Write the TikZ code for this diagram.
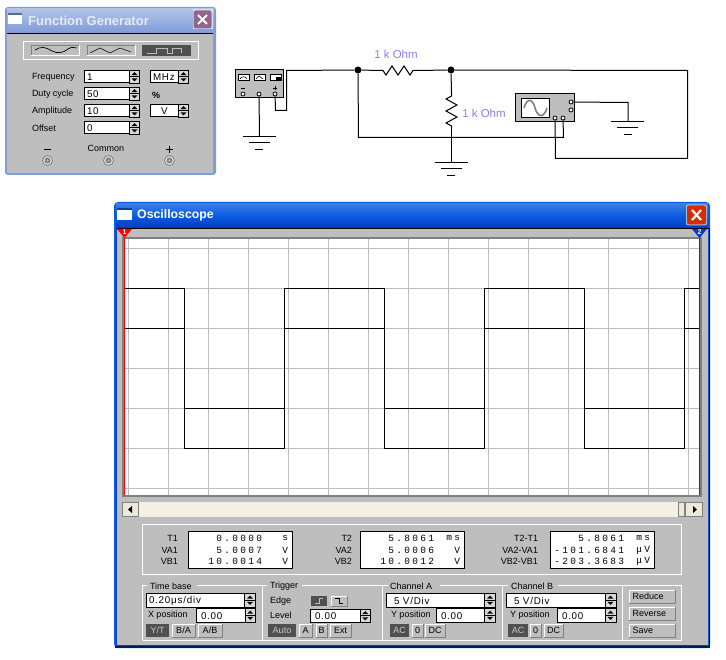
\documentclass[tikz,border=0pt]{standalone}
\usepackage{fontspec}
\setmainfont{Liberation Sans}
\newfontfamily\lcdfont[LetterSpace=24]{Liberation Mono}
\newfontfamily\fieldfont[LetterSpace=8]{Liberation Sans}
\definecolor{panelgray}{HTML}{BEBEBE}
\definecolor{gridgray}{HTML}{BEBEBE}
\definecolor{darkedge}{HTML}{808080}
\definecolor{btnface}{HTML}{ECE9D8}
\definecolor{trackcream}{HTML}{F4F1E4}
\definecolor{xpblue}{HTML}{0A5BE0}
\definecolor{xpdeep}{HTML}{003CC0}
\definecolor{inactA}{HTML}{8FA8DE}
\definecolor{inactB}{HTML}{7F9BD8}
\definecolor{labelblue}{HTML}{8585E6}
\definecolor{darkbtn}{HTML}{505050}
\newcounter{uid}
\tikzset{
  x=1pt,y=-1pt,
  wire/.style={draw=black,line width=1pt},
  trace/.style={draw=black,line width=1pt},
  gridline/.style={draw=gridgray,line width=1pt},
  txt/.style={inner sep=0pt,outer sep=0pt,font=\fontsize{9}{10}\selectfont,text=black},
  field/.style={draw=black,fill=white,line width=1pt},
  raised/.style={draw=darkedge,fill=panelgray,line width=1pt},
  terminal/.style={circle,draw=black,fill=white,line width=.8pt,inner sep=0pt,minimum size=4pt},
  junction/.style={circle,fill=black,inner sep=0pt,minimum size=7pt},
  resistorline/.style={draw=black,line width=1pt,line join=miter},
  reslabel/.style={inner sep=0pt,font=\fontsize{11.5}{12}\selectfont,text=labelblue},
}
\newcommand{\lab}[4]{\stepcounter{uid}\node[txt,anchor=#1] (t\theuid) at (#2,#3) {#4};}
\newcommand{\spin}[4]{%
  \fill[panelgray!60!white] (#1,#3) rectangle (#2,#4);
  \draw[black,line width=.8pt] (#1,#3) rectangle (#2,#4);
  \draw[black,line width=.6pt] (#1,{(#3+#4)/2}) -- (#2,{(#3+#4)/2});
  \fill[black] ({(#1+#2)/2-3},{(#3+#4)/2-1.6}) -- ({(#1+#2)/2+3},{(#3+#4)/2-1.6}) -- ({(#1+#2)/2},{(#3+#4)/2-4.6}) -- cycle;
  \fill[black] ({(#1+#2)/2-3},{(#3+#4)/2+1.6}) -- ({(#1+#2)/2+3},{(#3+#4)/2+1.6}) -- ({(#1+#2)/2},{(#3+#4)/2+4.6}) -- cycle;
}
\newcommand{\spinfield}[6]{%
  \draw[field] (#1,#4) rectangle (#2,#5);
  \spin{#2}{#3}{#4}{#5}
  \stepcounter{uid}\node[txt,anchor=west,font=\fontsize{9.8}{10}\fieldfont] (t\theuid) at (#1+2.5,{(#4+#5)/2+.5}) {#6};
}
\newcommand{\pbtn}[5]{%
  \draw[draw=white,line width=.8pt] (#1,#4) -- (#1,#3) -- (#2,#3);
  \draw[draw=darkedge,line width=1pt] (#2,#3) -- (#2,#4) -- (#1,#4);
  \stepcounter{uid}\node[txt,text=black] (t\theuid) at ({(#1+#2)/2},{(#3+#4)/2}) {#5};
}
\newcommand{\lbtn}[4]{%
  \draw[draw=white,line width=.8pt] (629,#2) -- (629,#1) -- (675,#1);
  \draw[draw=darkedge,line width=1pt] (675,#1) -- (675,#2) -- (629,#2);
  \stepcounter{uid}\node[txt,anchor=west] (t\theuid) at (632.5,{(#1+#2)/2-.5}) {#3};
}
\newcommand{\dbtn}[5]{%
  \fill[darkbtn] (#1,#3) rectangle (#2,#4);
  \stepcounter{uid}\node[txt,text=panelgray!85!white] (t\theuid) at ({(#1+#2)/2},{(#3+#4)/2}) {#5};
}
\newcommand{\dial}[2]{%
  \draw[darkedge,line width=.8pt,fill=panelgray!50!white] (#1,#2) circle (5);
  \fill[darkedge] (#1,#2) circle (3);
  \fill[panelgray] (#1,#2) circle (1.2);
}
\begin{document}
\begin{tikzpicture}
\useasboundingbox (0,0) rectangle (726,660);
\fill[white] (0,0) rectangle (726,660);

%% ---------- Function generator window ----------
\fill[inactB,rounded corners=3pt] (5,7) rectangle (216,175);
\fill[top color=inactA!70!white,bottom color=inactB] (7,9) rectangle (214,33);
\fill[panelgray] (7,33) rectangle (213,173);
\draw[black,line width=1pt] (7,33.5) -- (213,33.5);
\fill[white] (8,14) rectangle (22,24);
\fill[inactB!70!black] (8,13) rectangle (22,15);
\node[inner sep=0pt,anchor=west,text=white!80!inactB,font=\bfseries\fontsize{13}{14}\selectfont] (fgtitle) at (28,20.5) {Function Generator};
\fill[white!70!inactB] (192.5,9.5) rectangle (212.5,29.5);
\fill[rounded corners=2pt,fill=black!30!red!35!inactB] (193.5,10.5) rectangle (211.5,28.5);
\draw[white,line width=2pt] (198,15) -- (207,24) (207,15) -- (198,24);

\draw[white,line width=1pt] (23.5,41.5) rectangle (198.5,60);
\draw[raised,draw=white] (31,45.5) rectangle (79,55.5);
\draw[darkedge,line width=1pt] (31,55.5) -- (31,45.5) -- (79,45.5);
\draw[black,line width=.7pt] (35,50) .. controls (41,46) and (46,47) .. (52,51) .. controls (58,54) and (63,53) .. (68,49) .. controls (71,47) and (74,47) .. (77,48);
\draw[raised,draw=white] (87,45.5) rectangle (135,55.5);
\draw[darkedge,line width=1pt] (87,55.5) -- (87,45.5) -- (135,45.5);
\draw[black,line width=.5pt] (90,53) -- (100,48) -- (110,53) -- (120,48) -- (131,52);
\fill[darkbtn] (142,45) rectangle (191,56);
\draw[panelgray,line width=.7pt] (147,53) -- (156,53) -- (156,48) -- (167,48) -- (167,53) -- (172,53) -- (172,48) -- (181,48) -- (181,53);

\lab{west}{32}{77}{Frequency}
\lab{west}{32}{94.5}{Duty cycle}
\lab{west}{32}{111}{Amplitude}
\lab{west}{32}{128}{Offset}
\spinfield{84.5}{129.5}{139.5}{70.5}{83}{1}
\spinfield{84.5}{129.5}{139.5}{87.5}{100}{50}
\spinfield{84.5}{129.5}{139.5}{104.5}{117}{10}
\spinfield{84.5}{129.5}{139.5}{121.5}{134}{0}
\spinfield{150.5}{178.5}{188.5}{70.5}{83}{MHz}
\spinfield{150.5}{178.5}{188.5}{104.5}{117}{\hspace{8pt}V}
\lab{center}{156}{95}{\bfseries\%}
\lab{center}{106}{148}{Common}
\draw[black,line width=1pt] (44,149.5) -- (51,149.5);
\draw[black,line width=1pt] (166,149.5) -- (173,149.5) (169.5,146) -- (169.5,153);
\dial{47.5}{160.5}
\dial{108.5}{160.5}
\dial{169.5}{160.5}

%% ---------- Circuit ----------
\node[draw=black,line width=1pt,fill=panelgray,minimum width=48pt,minimum height=28pt,inner sep=0pt] (gen) at (259,84) {};
\foreach \xa/\xb in {238/249,254/265,270/281}{
  \draw[black,fill=white,line width=1pt] (\xa,75) rectangle (\xb,81);
}
\draw[black,line width=.6pt] (240,79) .. controls (241,76) and (246,76) .. (247,79);
\draw[black,line width=.6pt] (256,79) -- (259,76) -- (263,79);
\fill[black] (276,77) rectangle (281,81);
\draw[black,line width=.7pt] (241,88) -- (245,88) (273,88) -- (277,88) (275,86) -- (275,90);
\node[terminal] (genneg) at (243,94) {};
\node[terminal] (gencom) at (259,94) {};
\node[terminal] (genpos) at (275,94) {};

\coordinate (gp1) at (275.5,110.5);
\coordinate (gp2) at (286.5,110.5);
\coordinate (gp3) at (286.5,70.5);
\node[junction] (j1) at (358,70) {};
\node[junction] (j2) at (451,70) {};
\coordinate (r1a) at (380,70.5);
\coordinate (r1b) at (416,70.5);
\coordinate (r2a) at (451.5,93);
\coordinate (r2b) at (451.5,129);
\coordinate (tr) at (687.5,70.5);
\coordinate (br) at (687.5,158.5);
\coordinate (bl) at (358.5,137.5);
\coordinate (gnd1) at (259.5,136.5);
\coordinate (gnd2) at (451.5,162.5);
\coordinate (gnd3) at (628,121.5);
\coordinate (sc1) at (628,102.5);
\coordinate (c1) at (555.5,158.5);
\coordinate (c2) at (563.5,137.5);

\node[draw=black,line width=1pt,fill=panelgray,minimum width=59pt,minimum height=28pt,inner sep=0pt] (osc) at (545,108) {};
\draw[black,fill=white,line width=1pt] (521.5,98.5) rectangle (549.5,118);
\draw[darkedge,line width=1.6pt] (524,108) .. controls (527,97) and (533,99) .. (535,108) .. controls (538,118) and (544,118) .. (547,108);
\node[terminal] (oscg) at (571,102) {};
\node[terminal] (osct) at (571,110) {};
\node[terminal] (osca) at (555,118) {};
\node[terminal] (oscb) at (563,118) {};

\draw[wire] (genpos) -- (gp1) -- (gp2) -- (gp3) -- (j1);
\draw[wire] (j1) -- (r1a);
\draw[resistorline] (r1a) -- (383,70.5) -- (386,75) -- (392,66) -- (398,75) -- (404,66) -- (410,75) -- (413,70.5) -- (r1b);
\draw[wire] (r1b) -- (j2);
\draw[wire] (j2) -- (tr) -- (br) -- (c1) -- (osca);
\draw[wire] (j2) -- (r2a);
\draw[resistorline] (r2a) -- (451.5,96) -- (446,99) -- (457,105) -- (446,111) -- (457,117) -- (446,123) -- (451.5,126) -- (r2b);
\draw[wire] (r2b) -- (gnd2);
\draw[wire] (j1) -- (bl) -- (c2) -- (oscb);
\draw[wire] (gencom) -- (gnd1);
\draw[wire] (oscg) -- (sc1) -- (gnd3);
\draw[wire] (243,136.5) -- (276,136.5) (249,142.5) -- (270,142.5) (255,149.5) -- (263,149.5);
\draw[wire] (435,162.5) -- (468,162.5) (441,168.5) -- (462,168.5) (447,175.5) -- (455,175.5);
\draw[wire] (611,121.5) -- (644,121.5) (617,127.5) -- (638,127.5) (624,134.5) -- (632,134.5);
\node[reslabel] (rl1) at (396,54) {1 k Ohm};
\node[reslabel] (rl2) at (484,113) {1 k Ohm};

%% ---------- Oscilloscope window ----------
\fill[xpblue,rounded corners=4pt] (114,202) rectangle (710,648);
\fill[top color=xpblue!80!white,bottom color=xpdeep,middle color=xpblue] (116,204) rectangle (708,228);
\fill[xpdeep] (116,228) rectangle (708,646);
\fill[panelgray] (117,229) rectangle (708,645);
\draw[black,line width=1pt] (117,228.5) -- (709,228.5);
\draw[black,line width=1pt] (709,228) -- (709,646);
\draw[black!50!xpdeep,line width=1.2pt] (115,647) -- (710,647);
\fill[white] (117,210) rectangle (132,220);
\fill[black!30!xpblue] (117,208) rectangle (132,210);
\node[inner sep=0pt,anchor=west,text=white,font=\bfseries\fontsize{12.3}{14}\selectfont] (osctitle) at (137,215.5) {Oscilloscope};
\fill[white!60!xpblue,rounded corners=2pt] (686,204.5) rectangle (707,225.5);
\fill[rounded corners=2pt,fill=red!60!orange!85!black] (687,205.5) rectangle (706,224.5);
\draw[white,line width=2.2pt] (692,210) -- (701,220) (701,210) -- (692,220);

\fill[darkedge] (122,237.5) rectangle (702,497);
\fill[white] (124,239.5) rectangle (700,495);
\foreach \gx in {128.5,168.5,...,688.5}{\draw[gridline] (\gx,239.5) -- (\gx,495);}
\foreach \gy in {248.5,288.5,...,488.5}{\draw[gridline] (124,\gy) -- (700,\gy);}
\draw[trace] (125,288.5) -- (184.5,288.5) -- (184.5,448.5) -- (284.5,448.5) -- (284.5,288.5) -- (384.5,288.5) -- (384.5,448.5) -- (484.5,448.5) -- (484.5,288.5) -- (584.5,288.5) -- (584.5,448.5) -- (684.5,448.5) -- (684.5,288.5) -- (699,288.5);
\draw[trace] (125,328.5) -- (184.5,328.5) -- (184.5,408.5) -- (284.5,408.5) -- (284.5,328.5) -- (384.5,328.5) -- (384.5,408.5) -- (484.5,408.5) -- (484.5,328.5) -- (584.5,328.5) -- (584.5,408.5) -- (684.5,408.5) -- (684.5,328.5) -- (699,328.5);
\draw[red,line width=1.5pt] (124.5,237) -- (124.5,495);
\draw[xpdeep,line width=1pt] (699.5,237) -- (699.5,495);
\fill[red] (117,229) -- (132,229) -- (124.5,238) -- cycle;
\fill[xpdeep] (692,229) -- (707,229) -- (699.5,238) -- cycle;
\node[inner sep=0pt,text=white,font=\bfseries\fontsize{7}{7}\selectfont] (cur1) at (124.5,232.5) {1};
\node[inner sep=0pt,text=white,font=\bfseries\fontsize{7}{7}\selectfont] (cur2) at (699.5,232.5) {2};

\fill[trackcream] (122,502) rectangle (702,517);
\draw[fill=btnface,draw=darkedge,line width=1pt] (122.5,502.5) rectangle (138,516.5);
\fill[black] (128,509.5) -- (132,506) -- (132,513) -- cycle;
\draw[fill=btnface,draw=darkedge,line width=1pt] (678,502.5) rectangle (684,516.5);
\draw[fill=btnface,draw=darkedge,line width=1pt] (685.5,502.5) rectangle (702,516.5);
\fill[black] (697,509.5) -- (693,506) -- (693,513) -- cycle;

\draw[white,line width=1pt] (142.5,574.5) -- (142.5,524.5) -- (681.5,524.5) -- (681.5,574.5) -- cycle;
\foreach \bxa/\bxb in {188.5/292,360.5/464,550.5/654}{
  \draw[field] (\bxa,531.5) rectangle (\bxb,568);
}
\newcommand{\rowlab}[3]{\lab{east}{#1}{#2}{#3}}
\newcommand{\lcd}[3]{\stepcounter{uid}\node[txt,anchor=east,font=\fontsize{9.5}{10}\lcdfont] (t\theuid) at (#1,#2) {#3};}
\rowlab{178}{538}{T1}\rowlab{178}{550}{VA1}\rowlab{178}{561}{VB1}
\rowlab{352}{538}{T2}\rowlab{352}{550}{VA2}\rowlab{352}{561}{VB2}
\rowlab{538}{538}{T2-T1}\rowlab{538}{550}{VA2-VA1}\rowlab{538}{561}{VB2-VB1}
\lcd{262}{538}{0.0000}\lcd{288}{538}{s}
\lcd{262}{550}{5.0007}\lcd{288}{550}{V}
\lcd{262}{561.5}{10.0014}\lcd{288}{561.5}{V}
\lcd{434}{538}{5.8061}\lcd{460}{538}{ms}
\lcd{434}{550}{5.0006}\lcd{460}{550}{V}
\lcd{434}{561.5}{10.0012}\lcd{460}{561.5}{V}
\lcd{624}{538}{5.8061}\lcd{650}{538}{ms}
\lcd{624}{550}{-101.6841}\lcd{650}{550}{μV}
\lcd{624}{561.5}{-203.3683}\lcd{650}{561.5}{μV}

\draw[white,line width=1pt] (142.5,640) -- (142.5,585.5) -- (147,585.5) (197,585.5) -- (267,585.5) (302,585.5) -- (388,585.5) (440,585.5) -- (508,585.5) (558,585.5) -- (681.5,585.5) -- (681.5,640) -- (142.5,640);
\foreach \dx in {262.5,382.5,502.5,622.5}{\draw[white,line width=1pt] (\dx,585.5) -- (\dx,640);}
\lab{west}{150}{586}{Time base}
\lab{west}{270}{586}{Trigger}
\lab{west}{390}{586}{Channel A}
\lab{west}{511}{586}{Channel B}

\spinfield{146.5}{244.5}{255.5}{593.5}{607}{0.20μs/div}
\lab{west}{148}{615}{X position}
\spinfield{196.5}{245}{255.5}{608.5}{622}{\hspace{2pt}0.00}
\dbtn{146}{169}{624}{637}{Y/T}
\pbtn{172}{195}{624}{637}{B/A}
\pbtn{198}{222}{624}{637}{A/B}

\lab{west}{270}{601}{Edge}
\lab{west}{270}{615}{Level}
\dbtn{311}{327}{596}{606}{}
\draw[panelgray,line width=.7pt] (315,603.5) -- (319,603.5) -- (319,598.5) -- (323,598.5);
\pbtn{331}{347}{596}{606}{}
\draw[black,line width=.7pt] (335,598.5) -- (339,598.5) -- (339,603.5) -- (343,603.5);
\spinfield{310.5}{360}{370.5}{609.5}{622}{\hspace{2pt}0.00}
\dbtn{268}{296}{624}{637}{Auto}
\pbtn{299}{312}{624}{637}{A}
\pbtn{316}{327}{624}{637}{B}
\pbtn{330}{351}{624}{637}{Ext}

\spinfield{386.5}{484.5}{495.5}{593.5}{607}{\hspace{5pt}5 V/Div}
\lab{west}{391}{615}{Y position}
\spinfield{436.5}{484.5}{495.5}{608.5}{622}{\hspace{2pt}0.00}
\dbtn{390}{409}{624}{637}{AC}
\pbtn{412}{423}{624}{637}{0}
\pbtn{425}{445}{624}{637}{DC}

\spinfield{506.5}{605}{616}{593.5}{607}{\hspace{5pt}5 V/Div}
\lab{west}{510}{615}{Y position}
\spinfield{557.5}{605}{616}{608.5}{622}{\hspace{2pt}0.00}
\dbtn{508}{528}{624}{637}{AC}
\pbtn{530}{541}{624}{637}{0}
\pbtn{544}{563}{624}{637}{DC}

\lbtn{590}{603}{Reduce}{}
\lbtn{607}{620}{Reverse}{}
\lbtn{624}{637}{Save}{}
\end{tikzpicture}
\end{document}
